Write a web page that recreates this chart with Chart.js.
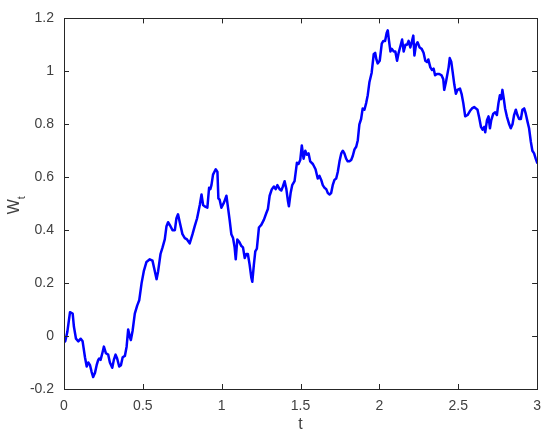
<!DOCTYPE html>
<html>
<head>
<meta charset="utf-8">
<script src="https://cdn.jsdelivr.net/npm/chart.js@4.4.1/dist/chart.umd.min.js"></script>
<style>
  html, body { margin: 0; padding: 0; background: #fff; }
  #wrap { width: 550px; height: 439px; }
</style>
</head>
<body>
<div id="wrap"><canvas id="pathChart" width="550" height="439"></canvas></div>
<script>
// sample path W_t
const tValues = [
  0.000, 0.008, 0.021, 0.038, 0.055, 0.063, 0.076, 0.091, 0.106, 0.118,
  0.133, 0.144, 0.154, 0.165, 0.175, 0.185, 0.196, 0.207, 0.217, 0.223,
  0.232, 0.245, 0.253, 0.266, 0.280, 0.291, 0.306, 0.316, 0.327, 0.337,
  0.350, 0.361, 0.372, 0.386, 0.397, 0.407, 0.418, 0.424, 0.435, 0.449,
  0.464, 0.477, 0.492, 0.506, 0.523, 0.544, 0.561, 0.576, 0.587, 0.597,
  0.612, 0.625, 0.639, 0.650, 0.660, 0.675, 0.688, 0.703, 0.713, 0.723,
  0.734, 0.751, 0.766, 0.780, 0.797, 0.815, 0.829, 0.844, 0.861, 0.872,
  0.882, 0.892, 0.909, 0.920, 0.928, 0.935, 0.945, 0.962, 0.973, 0.979,
  0.987, 0.998, 1.015, 1.030, 1.040, 1.051, 1.061, 1.072, 1.082, 1.089,
  1.099, 1.112, 1.125, 1.135, 1.146, 1.156, 1.166, 1.177, 1.188, 1.194,
  1.204, 1.213, 1.223, 1.236, 1.251, 1.268, 1.283, 1.293, 1.304, 1.318,
  1.331, 1.342, 1.353, 1.367, 1.378, 1.388, 1.399, 1.410, 1.420, 1.426,
  1.437, 1.447, 1.462, 1.477, 1.487, 1.498, 1.508, 1.519, 1.530, 1.540,
  1.551, 1.561, 1.578, 1.595, 1.609, 1.620, 1.631, 1.641, 1.652, 1.663,
  1.673, 1.684, 1.694, 1.704, 1.715, 1.726, 1.736, 1.747, 1.758, 1.768,
  1.778, 1.789, 1.799, 1.810, 1.821, 1.831, 1.842, 1.853, 1.863, 1.873,
  1.884, 1.894, 1.905, 1.916, 1.926, 1.937, 1.951, 1.964, 1.973, 1.981,
  1.989, 2.002, 2.015, 2.025, 2.036, 2.046, 2.053, 2.061, 2.070, 2.078,
  2.091, 2.101, 2.112, 2.122, 2.133, 2.144, 2.154, 2.165, 2.175, 2.185,
  2.196, 2.207, 2.215, 2.222, 2.232, 2.242, 2.255, 2.268, 2.280, 2.291,
  2.302, 2.310, 2.323, 2.334, 2.344, 2.353, 2.365, 2.380, 2.394, 2.405,
  2.411, 2.422, 2.439, 2.446, 2.456, 2.464, 2.475, 2.485, 2.495, 2.511,
  2.521, 2.532, 2.544, 2.559, 2.574, 2.587, 2.601, 2.612, 2.622, 2.633,
  2.644, 2.654, 2.665, 2.671, 2.682, 2.692, 2.701, 2.709, 2.722, 2.734,
  2.745, 2.755, 2.764, 2.772, 2.780, 2.789, 2.797, 2.808, 2.823, 2.833,
  2.844, 2.854, 2.865, 2.875, 2.886, 2.897, 2.907, 2.918, 2.928, 2.939,
  2.949, 2.960, 2.970, 2.981, 2.991, 3.000
];
const wValues = [
  -0.010, -0.020, 0.015, 0.090, 0.085, 0.035, -0.010, -0.020, -0.010, -0.020,
  -0.080, -0.115, -0.100, -0.110, -0.135, -0.155, -0.140, -0.110, -0.090, -0.085,
  -0.090, -0.060, -0.040, -0.065, -0.070, -0.100, -0.120, -0.090, -0.070, -0.085,
  -0.115, -0.110, -0.080, -0.075, -0.040, 0.025, -0.005, -0.015, 0.020, 0.085,
  0.115, 0.135, 0.200, 0.245, 0.280, 0.290, 0.285, 0.245, 0.215, 0.245,
  0.310, 0.335, 0.365, 0.415, 0.430, 0.415, 0.400, 0.400, 0.445, 0.460,
  0.430, 0.385, 0.370, 0.365, 0.350, 0.385, 0.415, 0.445, 0.495, 0.535,
  0.495, 0.490, 0.485, 0.560, 0.555, 0.570, 0.610, 0.630, 0.620, 0.520,
  0.515, 0.485, 0.505, 0.530, 0.485, 0.435, 0.385, 0.370, 0.335, 0.290,
  0.365, 0.355, 0.340, 0.335, 0.295, 0.310, 0.310, 0.270, 0.220, 0.205,
  0.270, 0.320, 0.330, 0.410, 0.420, 0.440, 0.465, 0.480, 0.530, 0.555,
  0.565, 0.555, 0.570, 0.555, 0.550, 0.565, 0.585, 0.555, 0.510, 0.490,
  0.540, 0.570, 0.585, 0.655, 0.650, 0.665, 0.720, 0.670, 0.700, 0.685,
  0.690, 0.660, 0.650, 0.630, 0.595, 0.605, 0.590, 0.570, 0.560, 0.555,
  0.540, 0.535, 0.540, 0.570, 0.590, 0.595, 0.620, 0.660, 0.690, 0.700,
  0.690, 0.670, 0.660, 0.660, 0.665, 0.680, 0.705, 0.715, 0.740, 0.800,
  0.820, 0.860, 0.855, 0.880, 0.910, 0.960, 0.995, 1.065, 1.070, 1.045,
  1.030, 1.040, 1.105, 1.115, 1.115, 1.145, 1.155, 1.115, 1.075, 1.085,
  1.075, 1.075, 1.040, 1.070, 1.095, 1.120, 1.075, 1.100, 1.100, 1.115,
  1.090, 1.115, 1.135, 1.060, 1.100, 1.110, 1.090, 1.085, 1.070, 1.040,
  1.035, 1.045, 1.015, 1.005, 1.010, 0.985, 0.990, 0.990, 0.985, 0.970,
  0.930, 0.960, 1.015, 1.050, 1.035, 1.000, 0.950, 0.915, 0.930, 0.935,
  0.915, 0.880, 0.830, 0.835, 0.850, 0.860, 0.865, 0.860, 0.855, 0.825,
  0.790, 0.780, 0.790, 0.770, 0.815, 0.830, 0.785, 0.815, 0.840, 0.845,
  0.835, 0.880, 0.910, 0.895, 0.930, 0.895, 0.860, 0.830, 0.800, 0.785,
  0.800, 0.835, 0.855, 0.835, 0.820, 0.820, 0.855, 0.860, 0.840, 0.810,
  0.785, 0.735, 0.700, 0.690, 0.670, 0.655
];

const xTicks = [0, 0.5, 1, 1.5, 2, 2.5, 3];
const yTicks = [-0.2, 0, 0.2, 0.4, 0.6, 0.8, 1, 1.2];

const axisColor = '#262626';
const labelColor = '#404040';
const fontFamily = '"Liberation Sans", Arial, Helvetica, sans-serif';

const points = tValues.map((t, i) => ({ x: t, y: wValues[i] }));

// MATLAB style label: 1, 0.5, -0.2 (no trailing zeros)
function fmt(v) {
  return String(+v.toFixed(2));
}

// MATLAB style box with inward tick marks, plus axis titles
const matlabAxes = {
  id: 'matlabAxes',
  afterDatasetsDraw(chart) {
    const ctx = chart.ctx;
    const a = chart.chartArea;
    const xs = chart.scales.x;
    const ys = chart.scales.y;
    const tl = 5;
    ctx.save();
    ctx.strokeStyle = axisColor;
    ctx.lineWidth = 1;
    ctx.strokeRect(Math.round(a.left) + 0.5, Math.round(a.top) + 0.5,
      Math.round(a.right - a.left), Math.round(a.bottom - a.top));
    ctx.beginPath();
    xTicks.forEach(v => {
      const px = Math.round(xs.getPixelForValue(v)) + 0.5;
      ctx.moveTo(px, a.bottom); ctx.lineTo(px, a.bottom - tl);
      ctx.moveTo(px, a.top); ctx.lineTo(px, a.top + tl);
    });
    yTicks.forEach(v => {
      const py = Math.round(ys.getPixelForValue(v)) + 0.5;
      ctx.moveTo(a.left, py); ctx.lineTo(a.left + tl, py);
      ctx.moveTo(a.right, py); ctx.lineTo(a.right - tl, py);
    });
    ctx.stroke();

    // axis titles
    ctx.fillStyle = labelColor;
    ctx.font = '16px ' + fontFamily;
    ctx.textAlign = 'center';
    ctx.textBaseline = 'middle';
    ctx.fillText('t', (a.left + a.right) / 2, 425);

    ctx.translate(15, (a.top + a.bottom) / 2);
    ctx.rotate(-Math.PI / 2);
    ctx.textAlign = 'left';
    const wW = ctx.measureText('W').width;
    ctx.fillText('W', -wW / 2 - 3, 0);
    ctx.font = '11px ' + fontFamily;
    ctx.fillText('t', wW / 2 - 3, 7);
    ctx.restore();
  }
};

document.addEventListener('DOMContentLoaded', function() {
  const ctx = document.getElementById('pathChart').getContext('2d');
  new Chart(ctx, {
    type: 'line',
    data: {
      datasets: [{
        data: points,
        borderColor: '#0000ff',
        borderWidth: 2.5,
        borderJoinStyle: 'round',
        borderCapStyle: 'round',
        pointRadius: 0,
        tension: 0,
        fill: false
      }]
    },
    options: {
      responsive: false,
      animation: false,
      events: [],
      layout: { padding: { left: 0, top: 16, right: 12, bottom: 0 } },
      plugins: {
        legend: { display: false },
        tooltip: { enabled: false }
      },
      scales: {
        x: {
          type: 'linear',
          min: 0,
          max: 3,
          grid: { display: false, drawTicks: false },
          border: { display: false },
          afterBuildTicks: s => { s.ticks = xTicks.map(v => ({ value: v })); },
          ticks: {
            padding: 9,
            color: labelColor,
            font: { family: fontFamily, size: 14 },
            maxRotation: 0,
            callback: v => fmt(v)
          },
          afterFit: s => { s.height = 50; }
        },
        y: {
          min: -0.2,
          max: 1.2,
          grid: { display: false, drawTicks: false },
          border: { display: false },
          afterBuildTicks: s => { s.ticks = yTicks.map(v => ({ value: v })); },
          ticks: {
            padding: 10,
            color: labelColor,
            font: { family: fontFamily, size: 14 },
            callback: v => fmt(v)
          },
          afterFit: s => { s.width = 64; }
        }
      }
    },
    plugins: [matlabAxes]
  });
});
</script>
</body>
</html>
